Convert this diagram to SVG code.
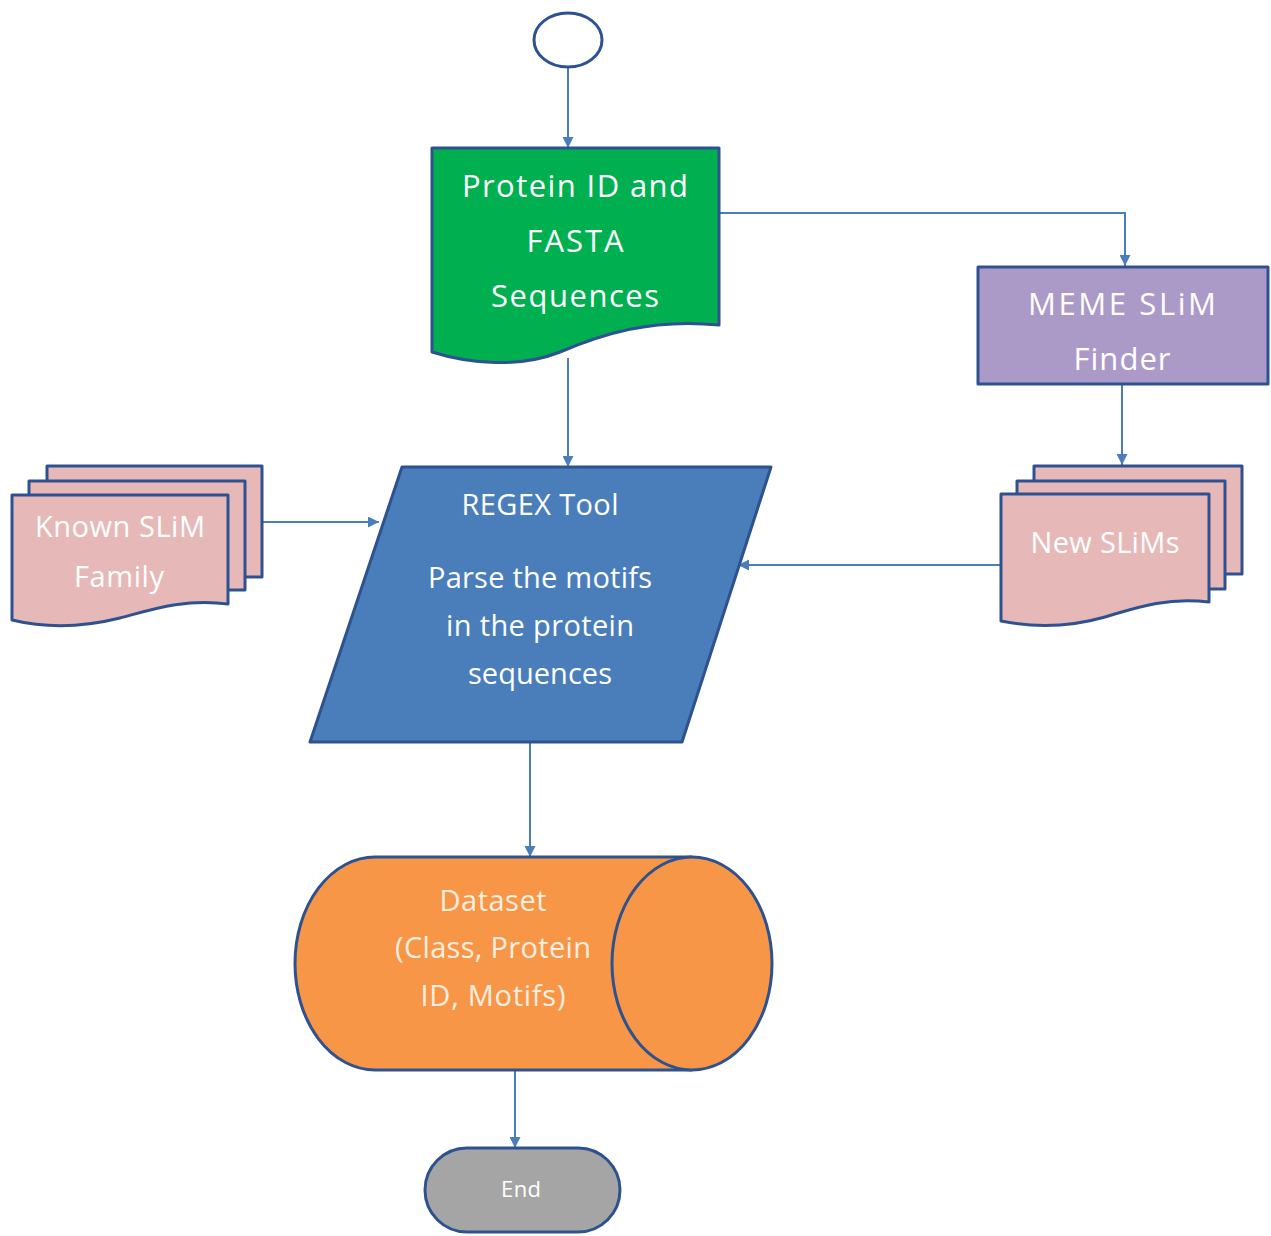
<svg xmlns="http://www.w3.org/2000/svg" width="1271" height="1236" viewBox="0 0 1271 1236">
  <defs>
    <marker id="arrow" viewBox="0 0 10 10" refX="10" refY="5" markerWidth="11" markerHeight="11" markerUnits="userSpaceOnUse" orient="auto">
      <path d="M0,0 L10,5 L0,10 z" fill="#4a7ebb"/>
    </marker>
  </defs>
  <style>
    .shape { stroke: #2e528f; stroke-width: 3; stroke-linejoin: round; }
    .conn { fill: none; stroke: #4a7ebb; stroke-width: 2; }
    .lbl { font-family: "Open Sans", "Liberation Sans", Arial, sans-serif; fill: #ffffff; text-anchor: middle; }
    .cream { fill: #fdeee0; }
  </style>
  <rect width="1271" height="1236" fill="#ffffff"/>

  <!-- connectors -->
  <g id="connectors">
    <line class="conn" x1="568" y1="68" x2="568" y2="148" marker-end="url(#arrow)"/>
    <polyline class="conn" points="719,213 1125,213 1125,266" marker-end="url(#arrow)"/>
    <line class="conn" x1="1122" y1="384" x2="1122" y2="465" marker-end="url(#arrow)"/>
    <line class="conn" x1="568" y1="358" x2="568" y2="467" marker-end="url(#arrow)"/>
    <line class="conn" x1="252" y1="522" x2="379" y2="522" marker-end="url(#arrow)"/>
    <line class="conn" x1="1000" y1="565" x2="738" y2="565" marker-end="url(#arrow)"/>
    <line class="conn" x1="530" y1="742" x2="530" y2="857" marker-end="url(#arrow)"/>
    <line class="conn" x1="515" y1="1070" x2="515" y2="1148" marker-end="url(#arrow)"/>
  </g>

  <!-- start terminator -->
  <g id="start">
    <ellipse class="shape" cx="568" cy="40" rx="34" ry="27" fill="#ffffff"/>
  </g>

  <!-- input document -->
  <g id="protein-input">
    <path class="shape" fill="#00b050" d="M432,148 L719,148 L719,325 C650,318 600,335 560,352 C520,368 470,364 432,352 Z"/>
    <text class="lbl" x="575" y="197" font-size="31" textLength="226" lengthAdjust="spacing">Protein ID and</text>
    <text class="lbl" x="575" y="252" font-size="31" textLength="97" lengthAdjust="spacing">FASTA</text>
    <text class="lbl" x="575" y="307" font-size="31" textLength="168" lengthAdjust="spacing">Sequences</text>
  </g>

  <!-- motif finder process -->
  <g id="meme-finder">
    <rect class="shape" x="978" y="267" width="290" height="117" fill="#ab9ac8"/>
    <text class="lbl" x="1122" y="315" font-size="31" textLength="188" lengthAdjust="spacing">MEME SLiM</text>
    <text class="lbl" x="1122" y="370" font-size="31" textLength="97" lengthAdjust="spacing">Finder</text>
  </g>

  <!-- known motif family (multi-document) -->
  <g id="known-slim">
    <rect class="shape" x="47" y="466" width="215" height="111" fill="#e6b9b8"/>
    <rect class="shape" x="29" y="481" width="216" height="109" fill="#e6b9b8"/>
    <path class="shape" fill="#e6b9b8" d="M12,495 L228,495 L228,604 C185,598 150,610 120,618 C80,628 45,628 12,620 Z"/>
    <text class="lbl" x="120" y="537" font-size="29" textLength="170" lengthAdjust="spacing">Known SLiM</text>
    <text class="lbl" x="119" y="587" font-size="29" textLength="90" lengthAdjust="spacing">Family</text>
  </g>

  <!-- new motifs (multi-document) -->
  <g id="new-slims">
    <rect class="shape" x="1034" y="466" width="208" height="108" fill="#e6b9b8"/>
    <rect class="shape" x="1017" y="481" width="208" height="108" fill="#e6b9b8"/>
    <path class="shape" fill="#e6b9b8" d="M1001,494 L1209,494 L1209,602 C1165,597 1135,608 1105,617 C1070,627 1035,628 1001,621 Z"/>
    <text class="lbl" x="1105" y="553" font-size="29" textLength="149" lengthAdjust="spacing">New SLiMs</text>
  </g>

  <!-- regex parsing step -->
  <g id="regex-tool">
    <polygon class="shape" fill="#4a7ebb" points="402,467 771,467 682,742 310,742"/>
    <text class="lbl" x="540" y="515" font-size="29" textLength="157" lengthAdjust="spacing">REGEX Tool</text>
    <text class="lbl" x="540" y="588" font-size="29" textLength="224" lengthAdjust="spacing">Parse the motifs</text>
    <text class="lbl" x="540" y="636" font-size="29" textLength="188" lengthAdjust="spacing">in the protein</text>
    <text class="lbl" x="540" y="684" font-size="29" textLength="144" lengthAdjust="spacing">sequences</text>
  </g>

  <!-- dataset storage -->
  <g id="dataset">
    <path class="shape" fill="#f79646" d="M692,857 L375,857 A80,106.5 0 0 0 375,1070 L692,1070"/>
    <ellipse class="shape" cx="692" cy="963.5" rx="80" ry="106.5" fill="#f79646"/>
    <text class="lbl cream" x="493" y="911" font-size="29" textLength="107" lengthAdjust="spacing">Dataset</text>
    <text class="lbl cream" x="493" y="958" font-size="29" textLength="196" lengthAdjust="spacing">(Class, Protein</text>
    <text class="lbl cream" x="493" y="1006" font-size="29" textLength="145" lengthAdjust="spacing">ID, Motifs)</text>
  </g>

  <!-- end terminator -->
  <g id="end">
    <rect class="shape" x="425" y="1148" width="195" height="84" rx="42" ry="42" fill="#a5a5a5"/>
    <text class="lbl" x="521" y="1197" font-size="22" textLength="40" lengthAdjust="spacing">End</text>
  </g>
</svg>
